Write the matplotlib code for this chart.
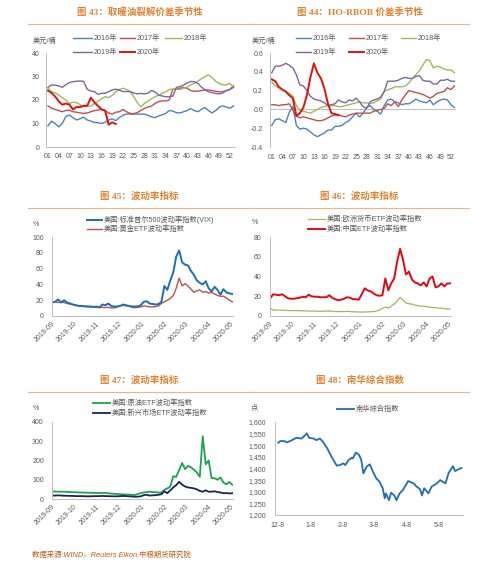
import matplotlib
matplotlib.use('Agg')
import matplotlib.pyplot as plt
import matplotlib.dates as mdates
from matplotlib.lines import Line2D
import numpy as np
import pandas as pd

plt.rcParams['font.family'] = ['Liberation Sans', 'Noto Sans CJK SC']

# ---------------- data ----------------
weeks = list(range(1, 54))
week_ticks = [1, 4, 7, 10, 13, 16, 19, 22, 25, 28, 31, 34, 37, 40, 43, 46, 49, 52]
week_labels = ['01', '04', '07', '10', '13', '16', '19', '22', '25', '28', '31', '34',
               '37', '40', '43', '46', '49', '52']

# Fig 43: heating oil crack spread (USD/bbl)
ho_2016 = [9, 11, 10, 8.6, 10, 13, 13.6, 12.5, 11.5, 12, 12.7, 11.5, 11, 10.5, 10.3, 10, 10.5,
           11.5, 12, 11.2, 12.5, 13.5, 14, 14, 14, 14, 14, 14, 13.5, 12.8, 12.5, 13.2, 13.7,
           14.3, 15.5, 15.3, 14.6, 14.5, 15, 15.5, 16.4, 15.5, 15, 16, 16.8, 15.5, 14.5, 15.5,
           17, 17.5, 17, 16.5, 17.5]
ho_2017 = [17.5, 16.5, 16, 15.5, 15, 15.5, 15.7, 15, 14.8, 14.5, 14.3, 14.5, 15, 15.5, 15.7,
           16, 15.5, 14.5, 14, 14.8, 15, 16, 15, 14.3, 14.2, 14.6, 15.5, 16.4, 17, 17.4, 18.5,
           19.3, 19.6, 19.6, 20, 24.6, 24.6, 25, 25.4, 25, 24, 23.7, 23.8, 24, 24.3, 24.3, 24,
           23.7, 23.5, 23.5, 24, 24.5, 26]
ho_2018 = [25, 23.6, 23, 22.1, 21, 20, 18.6, 19, 18.9, 18, 17.4, 17.4, 17.4, 18.5, 19.5, 20.5,
           21.4, 21, 22, 23.5, 24.5, 25, 24.5, 23.6, 21.5, 19, 17.1, 18.5, 19.5, 20.5, 21.4, 22,
           22.9, 23.5, 24.5, 24.6, 24.6, 24.5, 25, 25.4, 26.5, 27.1, 28, 29, 30, 30.7, 29.5, 28,
           27, 26.4, 26.5, 27, 25.4]
ho_2019 = [25.4, 26.4, 26.3, 26, 25.4, 26.5, 27.4, 27.8, 28, 28.1, 27.9, 24.6, 23.8, 23.6,
           22.4, 22.8, 22.9, 23.5, 24.3, 24.6, 24.2, 23.6, 23.6, 23.6, 23, 22.6, 22.8, 22.6,
           22.9, 24, 23.5, 22.1, 21.7, 21.4, 21.4, 21.7, 25.4, 25.7, 26.4, 27.2, 27.9, 27.8,
           27.1, 25.5, 24.3, 23.5, 23.1, 22.8, 22.6, 23, 24, 24.5, 25.4]
ho_2020 = [24, 23, 21.5, 19.5, 18, 18.5, 18, 16, 17, 17, 17.5, 17.5, 21, 19, 17.5, 16, 15.5,
           9.5, 10.5, 9.8]

# Fig 44: HO-RBOB spread
hr_2016 = [-0.17, -0.11, -0.1, -0.12, -0.14, -0.03, 0.03, -0.17, -0.21, -0.2, -0.21, -0.24,
           -0.27, -0.29, -0.27, -0.25, -0.22, -0.22, -0.18, -0.18, -0.17, -0.14, -0.12, -0.08,
           -0.04, -0.08, -0.04, 0.02, 0.04, 0.0, -0.02, -0.05, 0.04, 0.1, 0.11, 0.08, 0.07, 0.05,
           0.06, 0.06, 0.08, 0.11, 0.09, 0.08, 0.07, 0.1, 0.05, 0.08, 0.1, 0.11, 0.1, 0.05, 0.02]
hr_2017 = [0.05, 0.05, 0.04, 0.05, 0.05, 0.06, -0.01, -0.07, -0.09, -0.08, -0.09, -0.1, -0.11,
           -0.12, -0.12, -0.11, -0.09, -0.07, -0.06, -0.06, -0.07, -0.08, -0.06, -0.05, -0.04,
           -0.04, -0.04, -0.04, -0.04, -0.02, -0.01, 0.0, 0.01, 0.06, 0.04, 0.08, 0.03, 0.1,
           0.15, 0.2, 0.19, 0.18, 0.17, 0.16, 0.14, 0.12, 0.14, 0.17, 0.18, 0.19, 0.23, 0.21, 0.25]
hr_2018 = [0.29, 0.25, 0.23, 0.21, 0.19, 0.17, 0.14, 0.04, -0.01, -0.02, -0.03, -0.04, -0.02,
           0.0, 0.02, 0.03, 0.04, 0.04, 0.04, 0.03, 0.03, 0.04, 0.05, 0.06, 0.07, 0.08, 0.07,
           0.07, 0.06, 0.07, 0.09, 0.11, 0.19, 0.21, 0.22, 0.24, 0.24, 0.24, 0.25, 0.28, 0.33,
           0.37, 0.41, 0.47, 0.53, 0.52, 0.44, 0.46, 0.45, 0.43, 0.42, 0.42, 0.39]
hr_2019 = [0.39, 0.46, 0.46, 0.47, 0.49, 0.47, 0.44, 0.37, 0.26, 0.25, 0.2, 0.14, 0.11, 0.1,
           0.09, 0.07, 0.04, 0.05, 0.06, 0.1, 0.08, 0.07, 0.1, 0.09, 0.12, 0.08, 0.03, 0.01,
           0.08, 0.1, 0.11, 0.13, 0.19, 0.3, 0.3, 0.3, 0.31, 0.33, 0.34, 0.33, 0.33, 0.35, 0.36,
           0.31, 0.3, 0.3, 0.27, 0.27, 0.31, 0.31, 0.32, 0.3, 0.3]
hr_2020 = [0.32, 0.3, 0.24, 0.21, 0.19, 0.15, 0.12, -0.07, -0.04, 0.02, 0.15, 0.34, 0.49,
           0.39, 0.33, 0.22, 0.06, -0.04, -0.05, -0.06]

# Figs 45-47: volatility indices (%), sampled every 4 days from 2019-09-02
vol_dates = pd.date_range('2019-09-02', periods=62, freq='4D')
vix = [17, 18, 21, 17, 20, 17, 16, 14.5, 13.6, 12.8,
       12.8, 12.3, 12, 12, 11.5, 12, 11, 14.5, 13.6, 15.7,
       12.8, 12, 12, 12.8, 14.5, 13.6, 12.8, 12, 12, 12.3,
       13.6, 18, 18.7, 15.7, 15.3, 14.5, 15, 18,
       38, 33, 45, 55, 75, 83, 68, 65, 64, 57, 52, 45, 42, 40, 44, 35, 31, 37, 33, 27, 34,
       30, 28.5, 28]
gold_vol = [17, 18, 17, 18, 17, 16, 15, 14.5, 13.6, 12.8,
            12.3, 12, 12, 11.5, 11, 11, 10.6, 11, 10.6, 11,
            10.2, 10.2, 11.5, 12.8, 13.6, 12.8, 12.8, 11, 10.6, 11,
            11.5, 12.8, 12.3, 11.5, 11.5, 12, 12.8, 16,
            18, 20, 22, 26, 35, 48, 38, 41, 38, 34, 30, 32, 33, 30, 31, 29, 30, 28, 26, 25, 25,
            23, 20, 18]
euro_vol = [8, 6, 6, 6, 5.8, 5.8, 5.5, 5.5, 5.5, 5.5,
            5.3, 5.3, 5.2, 5, 5, 5, 4.8, 4.8, 4.8, 5,
            5, 4.8, 4.5, 4.5, 4.5, 4.5, 4.8, 4.5, 4.3, 4.2,
            4, 4, 4, 4.2, 4.3, 4.5, 5, 6,
            7.5, 9, 8, 10, 12, 15, 19, 16, 13, 12.5, 12, 11, 10.5, 10, 10, 9.5, 9, 8.5, 8.5,
            8, 8, 7.5, 7, 7]
china_vol = [18, 22, 21.5, 21, 22, 20, 18, 17.5, 17.5, 18,
             18.5, 19.5, 19, 21.5, 20, 19.5, 19.5, 19, 19, 19,
             21, 18.5, 17, 16, 16.5, 17.5, 19, 18.5, 17, 17,
             16.5, 22, 28, 26, 25, 23, 21, 20.5,
             21, 38, 26, 33, 38, 55, 68, 57, 42, 45, 37, 34, 33, 31, 34, 30, 38, 40, 29, 30,
             33, 30, 33, 33]
oil_vol = [38, 39, 38, 38, 38, 37, 36, 35, 35, 34,
           34, 33, 33, 32, 32, 31, 31, 31, 32, 30,
           28, 27, 26, 25, 24, 23, 23, 22, 21, 26,
           30, 34, 36, 38, 36, 35, 34, 33,
           48, 55, 65, 118, 115, 150, 187, 155, 172, 165, 152, 138, 115, 326, 180, 200, 108,
           108, 100, 112, 85, 76, 88, 74]
em_vol = [18, 18, 19, 18, 17, 17, 16, 16, 15, 15,
          15, 14, 14, 14, 15, 15, 15, 16, 15, 15,
          14, 14, 14, 15, 16, 15, 14, 13, 12, 12,
          14, 20, 22, 18, 19, 20, 22, 25,
          40, 30, 45, 60, 72, 89, 75, 65, 60, 58, 55, 50, 42, 38, 45, 38, 38, 40, 36, 34, 30,
          31, 29, 30]
month_ticks = ['2019-09-01', '2019-10-01', '2019-11-01', '2019-12-01', '2020-01-01',
               '2020-02-01', '2020-03-01', '2020-04-01', '2020-05-01']
month_labels = ['2019-09', '2019-10', '2019-11', '2019-12', '2020-01', '2020-02', '2020-03',
                '2020-04', '2020-05']

# Fig 48: Nanhua composite index
nh_dates = ['2019-12-09', '2019-12-11', '2019-12-15', '2019-12-17', '2019-12-22', '2019-12-26',
            '2019-12-31', '2020-01-05', '2020-01-07', '2020-01-11', '2020-01-14', '2020-01-17',
            '2020-01-20', '2020-01-24', '2020-01-28', '2020-02-02', '2020-02-05', '2020-02-08',
            '2020-02-10', '2020-02-13', '2020-02-16', '2020-02-17', '2020-02-20', '2020-02-23',
            '2020-02-25', '2020-02-27', '2020-03-01', '2020-03-04', '2020-03-07', '2020-03-10',
            '2020-03-13', '2020-03-16', '2020-03-18', '2020-03-19', '2020-03-22', '2020-03-24',
            '2020-03-27', '2020-03-29', '2020-04-01', '2020-04-04', '2020-04-09', '2020-04-14',
            '2020-04-17', '2020-04-20', '2020-04-22', '2020-04-24', '2020-04-28', '2020-05-01',
            '2020-05-06', '2020-05-09', '2020-05-14', '2020-05-17', '2020-05-21', '2020-05-23',
            '2020-05-26', '2020-05-29']
nh_values = [1511, 1518, 1518, 1512, 1522, 1532, 1529, 1551, 1532, 1529, 1522, 1529, 1515,
             1487, 1451, 1412, 1415, 1422, 1415, 1436, 1446, 1443, 1469, 1458, 1436, 1379,
             1408, 1418, 1386, 1358, 1344, 1317, 1272, 1293, 1264, 1296, 1284, 1264, 1293,
             1307, 1346, 1336, 1322, 1312, 1284, 1315, 1293, 1322, 1336, 1350, 1336, 1381,
             1410, 1389, 1396, 1402]
nh_ticks = ['2019-12-08', '2020-01-08', '2020-02-08', '2020-03-08', '2020-04-08', '2020-05-08']
nh_labels = ['12-8', '1-8', '2-8', '3-8', '4-8', '5-8']

# ---------------- layout helpers ----------------
W, H = 499, 569
fig = plt.figure(figsize=(W / 100, H / 100), dpi=100)
fig.patch.set_facecolor('white')

GRAY = '#595959'
AX = '#BFBFBF'


def fx(x):
    return x / W


def fy(y):
    return 1 - y / H


def add_ax(l, r, t, b):
    ax = fig.add_axes([fx(l), fy(b), (r - l) / W, (b - t) / H])
    ax.set_facecolor('none')
    for s in ['top', 'right']:
        ax.spines[s].set_visible(False)
    for s in ['left', 'bottom']:
        ax.spines[s].set_color(AX)
        ax.spines[s].set_linewidth(0.7)
    ax.tick_params(length=0, labelsize=5, labelcolor=GRAY)
    return ax


def title(xc, y, text):
    fig.text(fx(xc), fy(y), text, ha='center', va='center', fontsize=6.8,
             fontweight='bold', color='#E5812F',
             family=['Liberation Serif', 'Noto Sans CJK SC'])


def sep(x0, x1, y):
    fig.add_artist(Line2D([fx(x0), fx(x1)], [fy(y), fy(y)], color='#F4B183', lw=0.8))


def leg(x0, x1, y, color, lw, label):
    fig.add_artist(Line2D([fx(x0), fx(x1)], [fy(y), fy(y)], color=color, lw=lw))
    fig.text(fx(x1 + 2), fy(y), label, ha='left', va='center', fontsize=5.2, color=GRAY)


def unit(x, y, text):
    fig.text(fx(x), fy(y), text, ha='left', va='center', fontsize=5.2, color=GRAY)


C16, C17, C18, C19, C20 = '#4F81BD', '#C0504D', '#9BBB59', '#8064A2', '#E3120B'

# ---------------- Fig 43 ----------------
title(140, 12, '图 43：取暖油裂解价差季节性')
sep(28, 250, 24)
ax = add_ax(46.2, 235.3, 53, 147)
ax.plot(weeks, ho_2016, color=C16, lw=1.0)
ax.plot(weeks, ho_2017, color=C17, lw=1.0)
ax.plot(weeks, ho_2018, color=C18, lw=1.0)
ax.plot(weeks, ho_2019, color=C19, lw=1.0)
ax.plot(weeks[:len(ho_2020)], ho_2020, color=C20, lw=1.4)
ax.set_xlim(0.5, 53.5)
ax.set_ylim(0, 40)
ax.set_yticks([0, 10, 20, 30, 40])
ax.set_xticks(week_ticks)
ax.set_xticklabels(week_labels)
ax.tick_params(axis='y', pad=5)
ax.tick_params(axis='x', pad=4)
unit(33, 41, '美元/桶')
leg(73, 92, 38, C16, 1.0, '2016年')
leg(120, 135, 38, C17, 1.0, '2017年')
leg(165, 182, 38, C18, 1.0, '2018年')
leg(73, 92, 52, C19, 1.0, '2019年')
leg(120, 135, 52, C20, 1.4, '2020年')

# ---------------- Fig 44 ----------------
title(360, 12, '图 44：HO-RBOB 价差季节性')
sep(249, 469, 24)
ax = add_ax(270, 456.2, 53, 147)
ax.spines['bottom'].set_visible(False)
ax.axhline(0, color=AX, lw=0.7)
ax.plot(weeks, hr_2016, color=C16, lw=1.0)
ax.plot(weeks, hr_2017, color=C17, lw=1.0)
ax.plot(weeks, hr_2018, color=C18, lw=1.0)
ax.plot(weeks, hr_2019, color=C19, lw=1.0)
ax.plot(weeks[:len(hr_2020)], hr_2020, color=C20, lw=1.4)
ax.set_xlim(0.5, 53.5)
ax.set_ylim(-0.4, 0.6)
ax.set_yticks([-0.4, -0.2, 0.0, 0.2, 0.4, 0.6])
ax.set_yticklabels(['-0.4', '-0.2', '0.0', '0.2', '0.4', '0.6'])
ax.set_xticks(week_ticks)
ax.set_xticklabels(week_labels)
ax.tick_params(axis='y', pad=5)
ax.tick_params(axis='x', pad=5)
unit(252, 41, '美元/桶')
leg(296, 311, 38, C16, 1.0, '2016年')
leg(349, 364, 38, C17, 1.0, '2017年')
leg(401, 416, 38, C18, 1.0, '2018年')
leg(296, 311, 52, C19, 1.0, '2019年')
leg(349, 364, 52, C20, 1.4, '2020年')


def vol_axis(ax, ymax, ystep):
    ax.set_xlim(pd.Timestamp('2019-09-01'), pd.Timestamp('2020-05-04'))
    ax.set_ylim(0, ymax)
    ax.set_yticks(np.arange(0, ymax + 1, ystep))
    ax.set_xticks([pd.Timestamp(d) for d in month_ticks])
    ax.set_xticklabels(month_labels, rotation=45, ha='right', rotation_mode='anchor')
    ax.tick_params(axis='y', pad=5.5)
    ax.tick_params(axis='x', pad=3)


# ---------------- Fig 45 ----------------
title(139, 196, '图 45：波动率指标')
sep(28, 250, 208)
ax = add_ax(51.5, 233, 237, 316)
ax.plot(vol_dates, gold_vol, color='#C0504D', lw=1.0)
ax.plot(vol_dates, vix, color='#1F6EB4', lw=1.4)
vol_axis(ax, 100, 20)
unit(33, 224, '%')
leg(87, 102, 220, '#1F6EB4', 1.4, '美国:标准普尔500波动率指数(VIX)')
leg(87, 102, 229.5, '#C0504D', 1.0, '美国:黄金ETF波动率指数')

# ---------------- Fig 46 ----------------
title(359, 196, '图 46：波动率指标')
sep(249, 469, 208)
ax = add_ax(269.5, 451, 237, 316)
ax.plot(vol_dates, euro_vol, color='#9BBB59', lw=0.9)
ax.plot(vol_dates, china_vol, color='#E30613', lw=1.4)
vol_axis(ax, 80, 20)
unit(252, 223, '%')
leg(308, 325, 219, '#9BBB59', 0.9, '美国:欧洲货币ETF波动率指数')
leg(308, 325, 229, '#E30613', 1.4, '美国:中国ETF波动率指数')

# ---------------- Fig 47 ----------------
title(139, 380, '图 47：波动率指标')
sep(28, 250, 392)
ax = add_ax(51.5, 233, 422, 499)
ax.plot(vol_dates, oil_vol, color='#1BA34D', lw=1.3)
ax.plot(vol_dates, em_vol, color='#1A2457', lw=1.3)
vol_axis(ax, 400, 100)
unit(33, 408, '%')
leg(93, 110, 403, '#1BA34D', 1.3, '美国:原油ETF波动率指数')
leg(93, 110, 413, '#1A2457', 1.3, '美国:新兴市场ETF波动率指数')

# ---------------- Fig 48 ----------------
title(360, 380, '图 48：南华综合指数')
sep(249, 469, 392)
ax = add_ax(275, 462.5, 422, 515)
ax.plot(pd.to_datetime(nh_dates), nh_values, color='#1F6EB4', lw=1.3)
ax.set_xlim(pd.Timestamp('2019-12-06'), pd.Timestamp('2020-05-30'))
ax.set_ylim(1200, 1600)
ax.set_yticks(np.arange(1200, 1601, 50))
ax.set_yticklabels([f'{v:,}' for v in range(1200, 1601, 50)])
ax.set_xticks(pd.to_datetime(nh_ticks))
ax.set_xticklabels(nh_labels)
ax.tick_params(axis='y', pad=6.5)
ax.tick_params(axis='x', pad=5)
unit(251, 408, '点')
leg(337, 354, 409, '#1F6EB4', 1.3, '南华综合指数')

# source
fig.text(fx(32), fy(555), '数据来源:WIND，Reuters Eikon,中粮期货研究院', ha='left', va='center',
         fontsize=5.3, color='#C65911', style='italic')

fig.savefig('out.png', dpi=100, facecolor='white')
